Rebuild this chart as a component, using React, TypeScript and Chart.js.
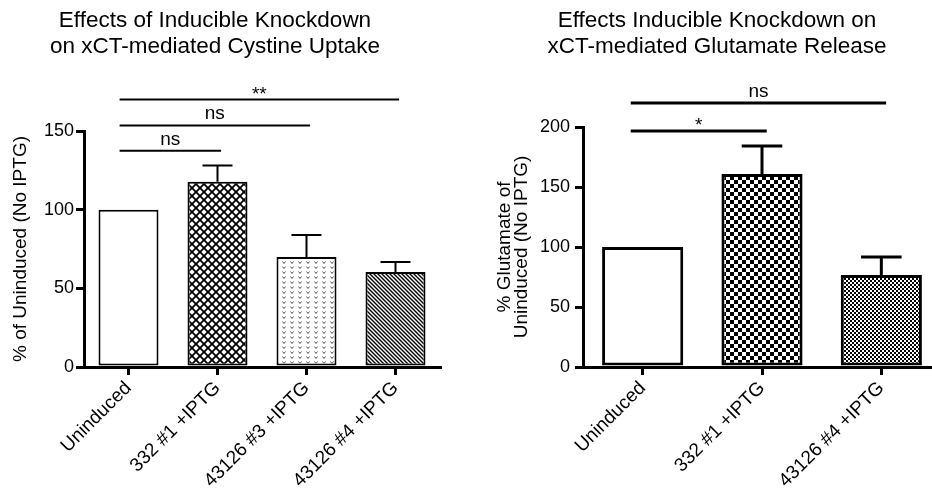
import React, { useEffect, useRef } from 'react';
import { Chart, registerables } from 'chart.js';

Chart.register(...registerables);

const FONT = '"Liberation Sans", Arial, Helvetica, sans-serif';

// ---------- Left panel data ----------
const leftTitle = ['Effects of Inducible Knockdown', 'on xCT-mediated Cystine Uptake'];
const leftYTitle = '% of Uninduced (No IPTG)';
const leftCategories = ['Uninduced', '332 #1 +IPTG', '43126 #3 +IPTG', '43126 #4 +IPTG'];
const leftValues = [100, 117.8, 69.9, 60.4];
const leftErrors = [0, 10.2, 14, 6.3];
const leftYTicks = [0, 50, 100, 150];
const leftSigPairs = [[0, 1], [0, 2], [0, 3]];
const leftSigLevels = [137.5, 153.5, 170];
const leftSigLabels = ['ns', 'ns', '**'];

// ---------- Right panel data ----------
const rightTitle = ['Effects Inducible Knockdown on', 'xCT-mediated Glutamate Release'];
const rightYTitle = ['% Glutamate of', 'Uninduced (No IPTG)'];
const rightCategories = ['Uninduced', '332 #1 +IPTG', '43126 #4 +IPTG'];
const rightValues = [100, 160.8, 76.7];
const rightErrors = [0, 23.4, 15];
const rightYTicks = [0, 50, 100, 150, 200];
const rightSigPairs = [[0, 1], [0, 2]];
const rightSigLevels = [196.7, 220];
const rightSigLabels = ['*', 'ns'];

function makePattern(kind: string): CanvasPattern | string {
  if (kind === 'white') return '#ffffff';
  const c = document.createElement('canvas');
  const g = c.getContext('2d') as CanvasRenderingContext2D;
  if (kind === 'crosshatch') {
    const t = 8;
    c.width = t; c.height = t;
    g.fillStyle = '#000'; g.fillRect(0, 0, t, t);
    g.fillStyle = '#fff';
    const r = 2.7;
    const centers = [[t / 2, t / 2], [0, 0], [t, 0], [0, t], [t, t]];
    for (const [cx, cy] of centers) {
      g.beginPath();
      g.moveTo(cx, cy - r); g.lineTo(cx + r, cy); g.lineTo(cx, cy + r); g.lineTo(cx - r, cy);
      g.closePath(); g.fill();
    }
  } else if (kind === 'vmarks') {
    c.width = 8; c.height = 5;
    g.fillStyle = '#fff'; g.fillRect(0, 0, 8, 5);
    g.strokeStyle = '#555'; g.lineWidth = 1;
    g.beginPath(); g.moveTo(2.5, 1.5); g.lineTo(4, 3.5); g.lineTo(5.5, 1.5); g.stroke();
  } else if (kind === 'diagonal') {
    const t = 4;
    c.width = t; c.height = t;
    g.fillStyle = '#fff'; g.fillRect(0, 0, t, t);
    g.strokeStyle = '#000'; g.lineWidth = 1.4;
    g.beginPath();
    g.moveTo(-1, -1); g.lineTo(t + 1, t + 1);
    g.moveTo(-1, t - 1); g.lineTo(1, t + 1);
    g.moveTo(t - 1, -1); g.lineTo(t + 1, 1);
    g.stroke();
  } else if (kind === 'checker' || kind === 'finechecker') {
    const s = kind === 'checker' ? 4 : 2;
    c.width = 2 * s; c.height = 2 * s;
    g.fillStyle = '#fff'; g.fillRect(0, 0, 2 * s, 2 * s);
    g.fillStyle = '#000';
    g.fillRect(0, 0, s, s); g.fillRect(s, s, s, s);
  }
  return g.createPattern(c, 'repeat') as CanvasPattern;
}

type PanelProps = {
  pageLeft: number;
  width: number;
  height: number;
  padLeft: number;
  padRight: number;
  padTop: number;
  yAxisWidth: number;
  xAxisHeight: number;
  categories: string[];
  values: number[];
  errors: number[];
  yTicks: number[];
  yTitle: string | string[];
  yTitleLineHeight: number;
  title: string[];
  titleCenterX: number;
  sigPairs: number[][];
  sigLevels: number[];
  sigLabels: string[];
  patterns: string[];
  borderWidth: number;
  errorWidth: number;
  sigWidth: number;
  barPercentage: number;
  yTickPadding: number;
};

function Panel(p: PanelProps) {
  const ref = useRef<HTMLCanvasElement | null>(null);
  useEffect(() => {
    const canvas = ref.current;
    if (!canvas) return;

    const annot = {
      id: 'annot',
      afterDatasetsDraw(chart: any) {
        const ctx = chart.ctx as CanvasRenderingContext2D;
        const ys = chart.scales.y;
        const meta = chart.getDatasetMeta(0);
        ctx.save();
        ctx.strokeStyle = '#000';
        ctx.lineWidth = p.errorWidth;
        ctx.lineCap = 'butt';
        meta.data.forEach((el: any, i: number) => {
          const e = p.errors[i];
          if (!e) return;
          const props = el.getProps(['x', 'y', 'width'], true);
          const top = ys.getPixelForValue(p.values[i] + e);
          const half = props.width / 4;
          ctx.beginPath();
          ctx.moveTo(props.x, props.y);
          ctx.lineTo(props.x, top);
          ctx.moveTo(props.x - half, top);
          ctx.lineTo(props.x + half, top);
          ctx.stroke();
        });
        ctx.restore();
      },
      afterDraw(chart: any) {
        const ctx = chart.ctx as CanvasRenderingContext2D;
        const xs = chart.scales.x;
        const ys = chart.scales.y;
        ctx.save();
        const cw = xs.getPixelForValue(1) - xs.getPixelForValue(0);
        ctx.strokeStyle = '#000';
        ctx.fillStyle = '#000';
        ctx.lineWidth = p.sigWidth;
        ctx.font = `19px ${FONT}`;
        ctx.textAlign = 'center';
        ctx.textBaseline = 'alphabetic';
        p.sigPairs.forEach((pair, k) => {
          const x1 = xs.getPixelForValue(pair[0]) - cw * 0.1;
          const x2 = xs.getPixelForValue(pair[1]) + cw * 0.04;
          const yy = ys.getPixelForValue(p.sigLevels[k]);
          ctx.beginPath();
          ctx.moveTo(x1, yy);
          ctx.lineTo(x2, yy);
          ctx.stroke();
          const m = ctx.measureText(p.sigLabels[k]);
          const desc = m.actualBoundingBoxDescent || 0;
          ctx.fillText(p.sigLabels[k], (x1 + x2) / 2, yy - 6 - desc);
        });
        ctx.font = `22.5px ${FONT}`;
        ctx.textAlign = 'center';
        ctx.textBaseline = 'alphabetic';
        p.title.forEach((line, i) => {
          ctx.fillText(line, p.titleCenterX, 27 + i * 26);
        });
        ctx.restore();
      },
    };

    const gridOpts = {
      display: true,
      drawOnChartArea: false,
      drawTicks: true,
      tickLength: 8,
      tickWidth: 3,
      tickColor: '#000',
      color: '#000',
      lineWidth: 3,
      offset: false,
    };

    const chart = new Chart(canvas, {
      type: 'bar',
      data: {
        labels: p.categories,
        datasets: [
          {
            data: p.values,
            backgroundColor: p.patterns.map(makePattern) as any,
            borderColor: '#000',
            borderWidth: p.borderWidth,
            borderSkipped: false,
            barPercentage: p.barPercentage,
            categoryPercentage: 1,
          },
        ],
      },
      options: {
        animation: false,
        responsive: false,
        devicePixelRatio: 1,
        layout: { padding: { left: p.padLeft, right: p.padRight, top: p.padTop, bottom: 0 } },
        plugins: {
          legend: { display: false },
          tooltip: { enabled: false },
          title: { display: false },
        },
        scales: {
          x: {
            type: 'category',
            offset: true,
            grid: gridOpts as any,
            border: { display: true, width: 3, color: '#000' },
            ticks: {
              color: '#000',
              font: { family: FONT, size: 19 },
              minRotation: 45,
              maxRotation: 45,
              autoSkip: false,
              padding: 2,
            },
            afterFit: (s: any) => {
              s.height = p.xAxisHeight;
              s.paddingLeft = 0;
              s.paddingRight = 0;
            },
          },
          y: {
            type: 'linear',
            min: p.yTicks[0],
            max: p.yTicks[p.yTicks.length - 1],
            grid: gridOpts as any,
            border: { display: true, width: 3, color: '#000' },
            ticks: {
              color: '#000',
              font: { family: FONT, size: 18 },
              padding: p.yTickPadding,
            },
            afterBuildTicks: (s: any) => {
              s.ticks = p.yTicks.map((v) => ({ value: v }));
            },
            title: {
              display: true,
              text: p.yTitle as any,
              color: '#000',
              font: { family: FONT, size: 19, lineHeight: p.yTitleLineHeight },
              padding: 0,
            },
            afterFit: (s: any) => {
              s.width = p.yAxisWidth;
              s.paddingTop = 0;
              s.paddingBottom = 0;
            },
          },
        },
      },
      plugins: [annot],
    });
    return () => chart.destroy();
  }, []);

  return (
    <canvas
      ref={ref}
      width={p.width}
      height={p.height}
      style={{ position: 'absolute', left: p.pageLeft, top: 0, width: p.width, height: p.height }}
    />
  );
}

export default function App() {
  return (
    <div
      style={{
        position: 'fixed',
        left: 0,
        top: 0,
        width: 932,
        height: 489,
        overflow: 'hidden',
        background: '#fff',
      }}
    >
      <Panel
        pageLeft={0}
        width={466}
        height={489}
        padLeft={9}
        padRight={26}
        padTop={131}
        yAxisWidth={75}
        xAxisHeight={122}
        categories={leftCategories}
        values={leftValues}
        errors={leftErrors}
        yTicks={leftYTicks}
        yTitle={leftYTitle}
        yTitleLineHeight={1.2}
        title={leftTitle}
        titleCenterX={215}
        sigPairs={leftSigPairs}
        sigLevels={leftSigLevels}
        sigLabels={leftSigLabels}
        patterns={['white', 'crosshatch', 'vmarks', 'diagonal']}
        borderWidth={2}
        errorWidth={2}
        sigWidth={2}
        barPercentage={0.674}
        yTickPadding={2}
      />
      <Panel
        pageLeft={466}
        width={475}
        height={489}
        padLeft={30.5}
        padRight={0}
        padTop={127}
        yAxisWidth={86.5}
        xAxisHeight={122}
        categories={rightCategories}
        values={rightValues}
        errors={rightErrors}
        yTicks={rightYTicks}
        yTitle={rightYTitle}
        yTitleLineHeight={0.9}
        title={rightTitle}
        titleCenterX={251}
        sigPairs={rightSigPairs}
        sigLevels={rightSigLevels}
        sigLabels={rightSigLabels}
        patterns={['white', 'checker', 'finechecker']}
        borderWidth={3}
        errorWidth={3}
        sigWidth={3}
        barPercentage={0.68}
        yTickPadding={5}
      />
    </div>
  );
}
